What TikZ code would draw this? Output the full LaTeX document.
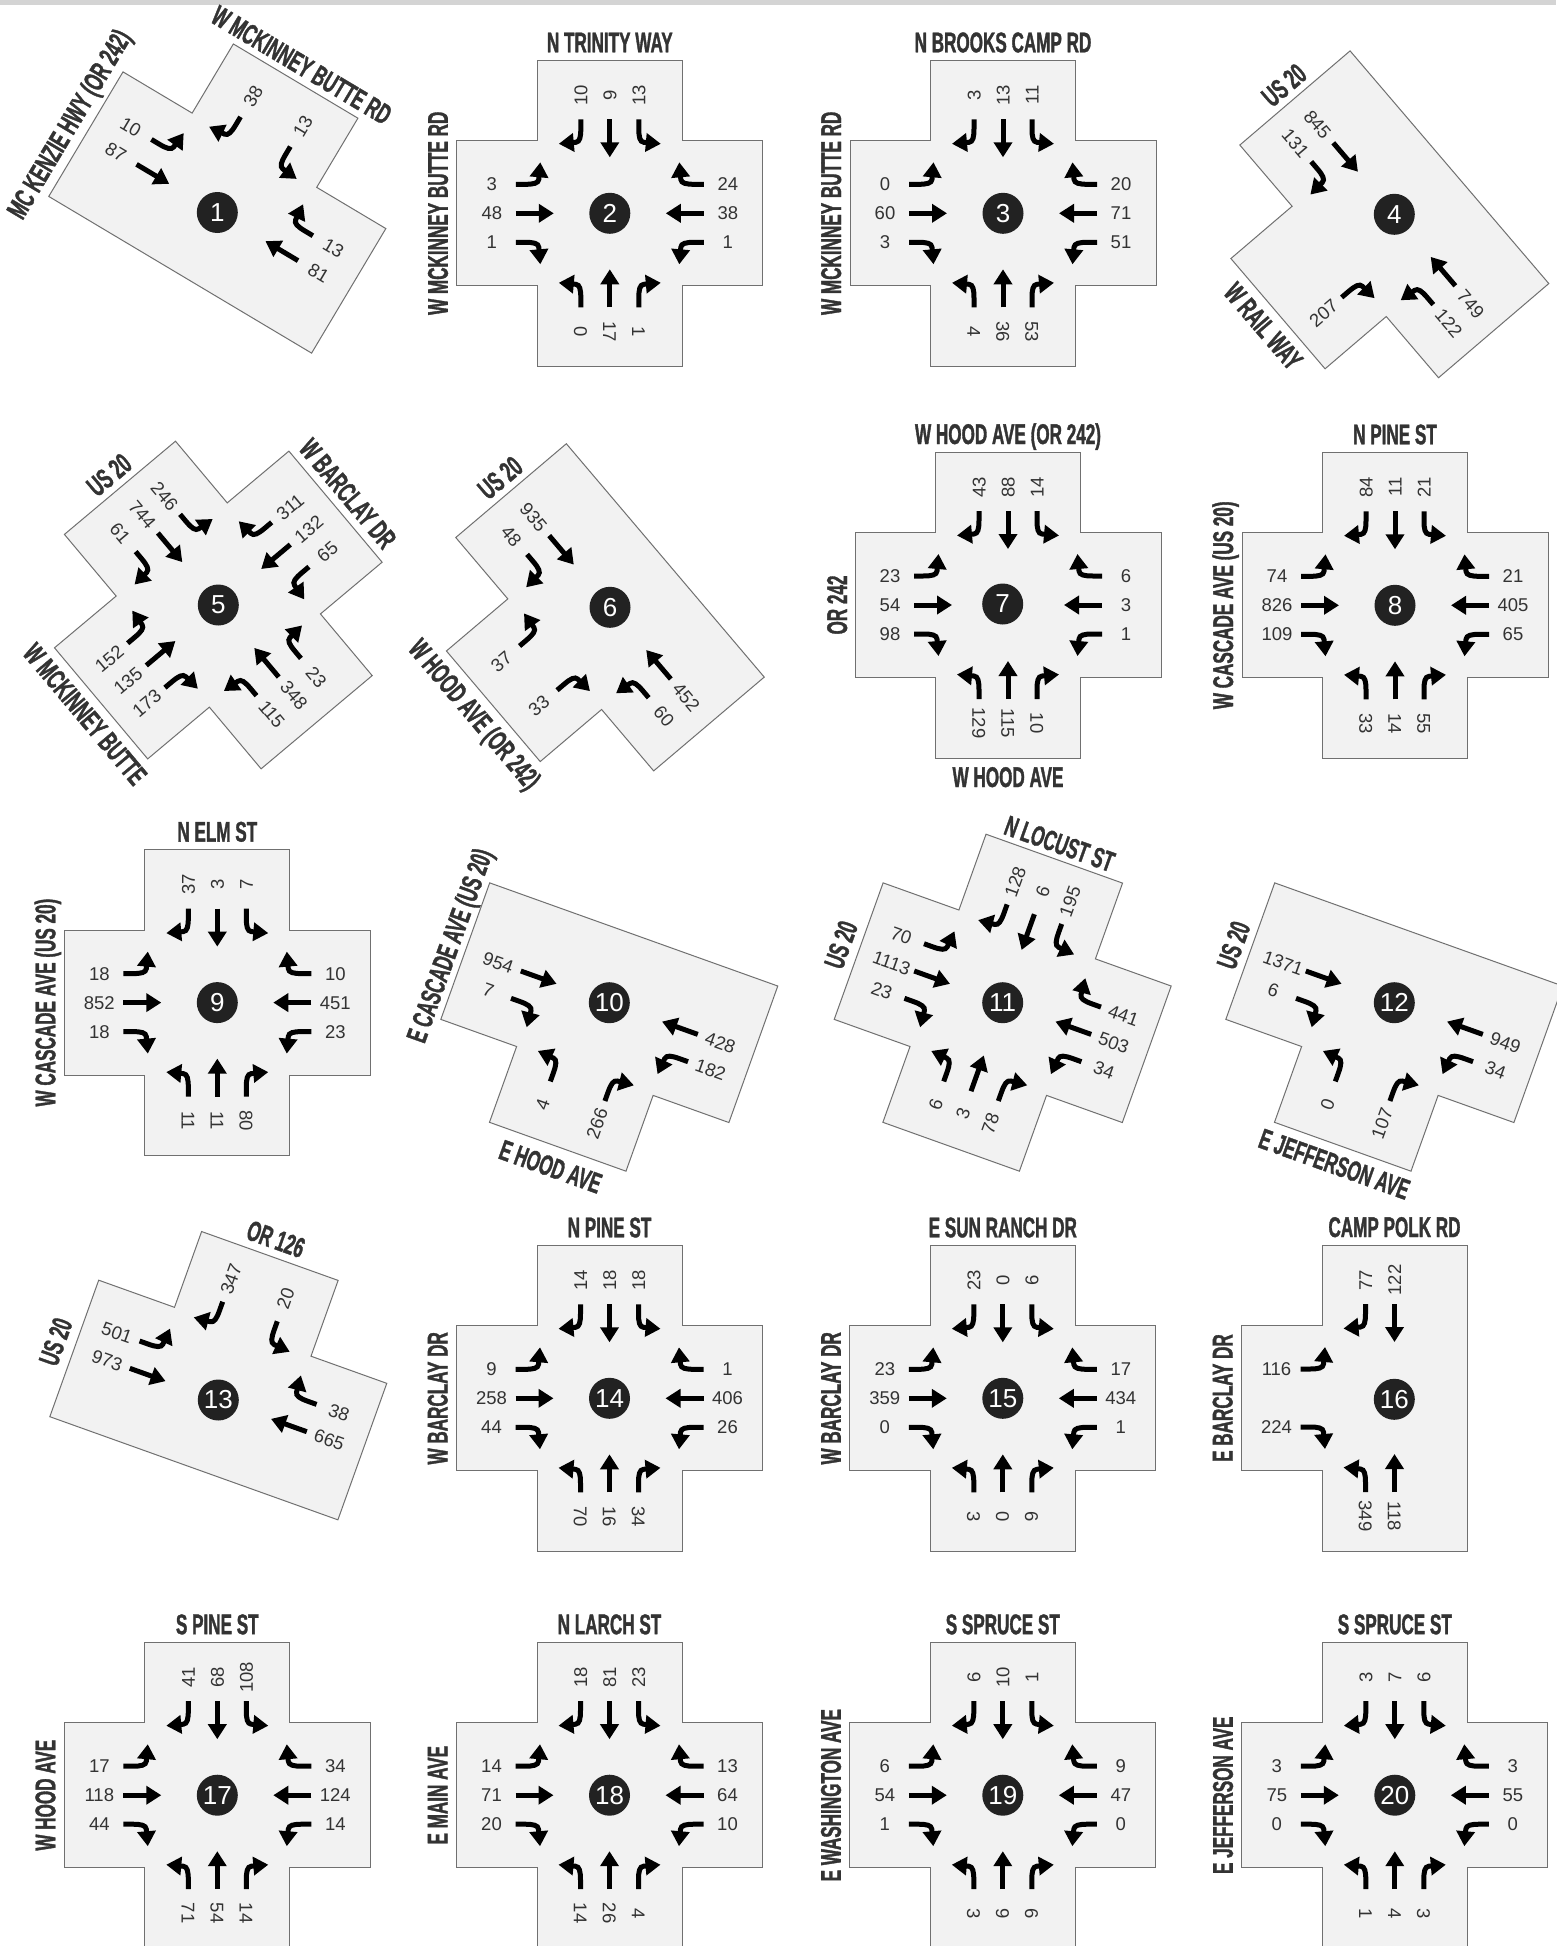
\documentclass[tikz,border=0pt]{standalone}
\usepackage{fontspec}
\usetikzlibrary{arrows.meta}
\setmainfont{Liberation Sans}
\newfontfamily\numfamily{Liberation Sans}
\newfontfamily\streetfam[FakeStretch=0.6,FakeBold=1.2]{Liberation Sans}
\definecolor{roadfill}{HTML}{F2F2F2}
\definecolor{roadline}{HTML}{707070}
\definecolor{numc}{HTML}{333333}
\definecolor{badgec}{HTML}{222222}
\definecolor{streetc}{HTML}{333333}
\definecolor{topbar}{HTML}{D4D4D4}
\newcommand\numfont{\numfamily\fontsize{18.5}{20}\selectfont}
\newcommand\badgefont{\numfamily\fontsize{26}{28}\selectfont}
\newcommand\stfont{\streetfam\bfseries\fontsize{28.5}{30}\selectfont}
\tikzset{
 road/.style={fill=roadfill,draw=roadline,line width=1pt,line join=miter},
 mv/.style={line width=5pt,draw=black,-{Triangle[length=15pt,width=18pt]}},
 num/.style={font=\numfont,text=numc,inner sep=0pt,text height=13.3pt,text depth=0pt},
 street/.style={font=\stfont,text=streetc,inner sep=0pt,text height=20pt,text depth=0pt},
 badge/.style={circle,fill=badgec,minimum size=41pt,inner sep=0pt,text=white,font=\badgefont},
}
\newcommand\setix[2]{\def\ixc{#1}\def\ixphi{#2}}
\newcommand\ixshape[4]{%
 \def\sN{}\def\sE{}\def\sS{}\def\sW{}%
 \ifnum#1=1 \def\sN{-- (-72.5,153) -- (72.5,153)}\fi
 \ifnum#2=1 \def\sE{-- (153,72.5) -- (153,-72.5)}\fi
 \ifnum#3=1 \def\sS{-- (72.5,-153) -- (-72.5,-153)}\fi
 \ifnum#4=1 \def\sW{-- (-153,-72.5) -- (-153,72.5)}\fi
 \path[road,shift={(\ixc)},rotate=\ixphi] (-72.5,72.5) \sN -- (72.5,72.5) \sE -- (72.5,-72.5) \sS -- (-72.5,-72.5) \sW -- cycle;}
\newcommand\apgen[5]{%
 \pgfmathsetmacro\aprot{\ixphi+#1}%
 \pgfmathsetmacro\aptxt{\ixphi+#2}%
 \pgfmathsetmacro\aptxt{(\aptxt < -90.5) ? (\aptxt+180) : ((\aptxt > 90.5) ? (\aptxt-180) : \aptxt)}%
 \begin{scope}[shift={(\ixc)},rotate=\aprot]
  \if\relax\detokenize{#3}\relax\else
   \draw[mv] (-94,29) -- (-85,29) .. controls (-76,29) and (-71.5,30) .. (-71,34) -- (-69.5,51);
   \node[num,rotate=\aptxt] at (-118,29) {#3};
  \fi
  \if\relax\detokenize{#4}\relax\else
   \draw[mv] (-94,0) -- (-56,0);
   \node[num,rotate=\aptxt] at (-118,0) {#4};
  \fi
  \if\relax\detokenize{#5}\relax\else
   \draw[mv] (-94,-29) -- (-85,-29) .. controls (-76,-29) and (-71.5,-30) .. (-71,-34) -- (-69.5,-51);
   \node[num,rotate=\aptxt] at (-118,-29) {#5};
  \fi
 \end{scope}}
\newcommand\apW[3]{\apgen{0}{0}{#1}{#2}{#3}}
\newcommand\apN[3]{\apgen{-90}{90}{#1}{#2}{#3}}
\newcommand\apE[3]{\apgen{180}{0}{#1}{#2}{#3}}
\newcommand\apS[3]{\apgen{90}{-90}{#1}{#2}{#3}}
\newcommand\badge[2]{\node[badge] at (#1) {#2};}
\newcommand\stlab[4]{%
 \pgfmathsetmacro\stang{\ixphi+#3}%
 \begin{scope}[shift={(\ixc)},rotate=\ixphi]
  \node[street,rotate=\stang] at (#1,#2) {#4};
 \end{scope}}
\begin{document}
\begin{tikzpicture}[x=1pt,y=1pt]
\useasboundingbox (0,0) rectangle (1556,-1946);
\fill[white] (0,0) rectangle (1556,-1946);
\fill[topbar] (0,0) rectangle (1556,-5);

% ---------- 1
\setix{217.3,-212.5}{-30.8}
\ixshape{1}{1}{0}{1}
\apW{10}{87}{}
\apN{13}{}{38}
\apE{}{81}{13}
\stlab{-173}{0}{90}{MC KENZIE HWY (OR 242)}
\stlab{-3}{170}{0}{W MCKINNEY BUTTE RD}
\badge{217.3,-212.5}{1}

% ---------- 2
\setix{609.8,-213.3}{0}
\ixshape{1}{1}{1}{1}
\apN{13}{9}{10}
\apW{3}{48}{1}
\apE{1}{38}{24}
\apS{0}{17}{1}
\stlab{0}{171}{0}{N TRINITY WAY}
\stlab{-172}{0}{90}{W MCKINNEY BUTTE RD}
\badge{609.8,-213.3}{2}

% ---------- 3
\setix{1003,-213.3}{0}
\ixshape{1}{1}{1}{1}
\apN{11}{13}{3}
\apW{0}{60}{3}
\apE{51}{71}{20}
\apS{4}{36}{53}
\stlab{0}{171}{0}{N BROOKS CAMP RD}
\stlab{-172}{0}{90}{W MCKINNEY BUTTE RD}
\badge{1003,-213.3}{3}

% ---------- 4
\setix{1394.3,-214.3}{-49.5}
\ixshape{0}{1}{1}{1}
\apW{}{845}{131}
\apE{122}{749}{}
\apS{}{}{207}
\stlab{-170}{0}{90}{US 20}
\stlab{0}{-172}{0}{W RAIL WAY}
\badge{1394.3,-214.3}{4}

% ---------- 5
\setix{218.3,-605}{-50}
\ixshape{1}{1}{1}{1}
\apW{246}{744}{61}
\apN{65}{132}{311}
\apE{115}{348}{23}
\apS{152}{135}{173}
\stlab{-170}{0}{90}{US 20}
\stlab{-2}{171}{0}{W BARCLAY DR}
\stlab{-2}{-172}{0}{W MCKINNEY BUTTE}
\badge{218.3,-605}{5}

% ---------- 6
\setix{610,-607.3}{-49.7}
\ixshape{0}{1}{1}{1}
\apW{}{935}{48}
\apE{60}{452}{}
\apS{37}{}{33}
\stlab{-170}{0}{90}{US 20}
\stlab{-6}{-172}{0}{W HOOD AVE (OR 242)}
\badge{610,-607.3}{6}

% ---------- 7
\setix{1008,-605}{0}
\ixshape{1}{1}{1}{1}
\apN{14}{88}{43}
\apW{23}{54}{98}
\apE{1}{3}{6}
\apS{129}{115}{10}
\stlab{0}{171}{0}{W HOOD AVE (OR 242)}
\stlab{-171}{0}{90}{OR 242}
\stlab{0}{-172}{0}{W HOOD AVE}
\badge{1002.7,-604}{7}

% ---------- 8
\setix{1395,-605.3}{0}
\ixshape{1}{1}{1}{1}
\apN{21}{11}{84}
\apW{74}{826}{109}
\apE{65}{405}{21}
\apS{33}{14}{55}
\stlab{0}{171}{0}{N PINE ST}
\stlab{-172}{0}{90}{W CASCADE AVE (US 20)}
\badge{1395,-605.3}{8}

% ---------- 9
\setix{217.3,-1002.6}{0}
\ixshape{1}{1}{1}{1}
\apN{7}{3}{37}
\apW{18}{852}{18}
\apE{23}{451}{10}
\apS{11}{11}{80}
\stlab{0}{171}{0}{N ELM ST}
\stlab{-172}{0}{90}{W CASCADE AVE (US 20)}
\badge{217.3,-1002.6}{9}

% ---------- 10
\setix{609.3,-1002.7}{-19.7}
\ixshape{0}{1}{1}{1}
\apW{}{954}{7}
\apE{182}{428}{}
\apS{4}{}{266}
\stlab{-170}{0}{90}{E CASCADE AVE (US 20)}
\stlab{0}{-174}{0}{E HOOD AVE}
\badge{609.3,-1002.7}{10}

% ---------- 11
\setix{1002.7,-1002.7}{-19.7}
\ixshape{1}{1}{1}{1}
\apW{70}{1113}{23}
\apN{195}{6}{128}
\apE{34}{503}{441}
\apS{6}{3}{78}
\stlab{0}{169}{0}{N LOCUST ST}
\stlab{-172}{0}{90}{US 20}
\badge{1002.7,-1002.7}{11}

% ---------- 12
\setix{1394.3,-1002.7}{-19.7}
\ixshape{0}{1}{1}{1}
\apW{}{1371}{6}
\apE{34}{949}{}
\apS{0}{}{107}
\stlab{-171}{0}{90}{US 20}
\stlab{-2}{-172}{0}{E JEFFERSON AVE}
\badge{1394.3,-1002.7}{12}

% ---------- 13
\setix{218.3,-1400}{-19.7}
\ixshape{1}{1}{0}{1}
\apW{501}{973}{}
\apN{20}{}{347}
\apE{}{665}{38}
\stlab{0}{171}{0}{OR 126}
\stlab{-173}{0}{90}{US 20}
\badge{218.3,-1400}{13}

% ---------- 14
\setix{609.5,-1398.3}{0}
\ixshape{1}{1}{1}{1}
\apN{18}{18}{14}
\apW{9}{258}{44}
\apE{26}{406}{1}
\apS{70}{16}{34}
\stlab{0}{171}{0}{N PINE ST}
\stlab{-172}{0}{90}{W BARCLAY DR}
\badge{609.5,-1398.3}{14}

% ---------- 15
\setix{1002.8,-1398.3}{0}
\ixshape{1}{1}{1}{1}
\apN{6}{0}{23}
\apW{23}{359}{0}
\apE{1}{434}{17}
\apS{3}{0}{6}
\stlab{0}{171}{0}{E SUN RANCH DR}
\stlab{-172}{0}{90}{W BARCLAY DR}
\badge{1002.8,-1398.3}{15}

% ---------- 16
\setix{1394.5,-1398}{0}
\ixshape{1}{0}{1}{1}
\apN{}{122}{77}
\apW{116}{}{224}
\apS{349}{118}{}
\stlab{0}{171}{0}{CAMP POLK RD}
\stlab{-172}{0}{90}{E BARCLAY DR}
\badge{1394.3,-1399.3}{16}

% ---------- 17
\setix{217.3,-1795.2}{0}
\ixshape{1}{1}{1}{1}
\apN{108}{68}{41}
\apW{17}{118}{44}
\apE{14}{124}{34}
\apS{71}{54}{14}
\stlab{0}{171}{0}{S PINE ST}
\stlab{-172}{0}{90}{W HOOD AVE}
\badge{217.3,-1795.2}{17}

% ---------- 18
\setix{609.5,-1795.2}{0}
\ixshape{1}{1}{1}{1}
\apN{23}{81}{18}
\apW{14}{71}{20}
\apE{10}{64}{13}
\apS{14}{26}{4}
\stlab{0}{171}{0}{N LARCH ST}
\stlab{-172}{0}{90}{E MAIN AVE}
\badge{609.5,-1795.2}{18}

% ---------- 19
\setix{1002.8,-1795.2}{0}
\ixshape{1}{1}{1}{1}
\apN{1}{10}{6}
\apW{6}{54}{1}
\apE{0}{47}{9}
\apS{3}{9}{6}
\stlab{0}{171}{0}{S SPRUCE ST}
\stlab{-172}{0}{90}{E WASHINGTON AVE}
\badge{1002.8,-1795.2}{19}

% ---------- 20
\setix{1394.8,-1795.2}{0}
\ixshape{1}{1}{1}{1}
\apN{6}{7}{3}
\apW{3}{75}{0}
\apE{0}{55}{3}
\apS{1}{4}{3}
\stlab{0}{171}{0}{S SPRUCE ST}
\stlab{-172}{0}{90}{E JEFFERSON AVE}
\badge{1394.8,-1795.2}{20}
\end{tikzpicture}
\end{document}
